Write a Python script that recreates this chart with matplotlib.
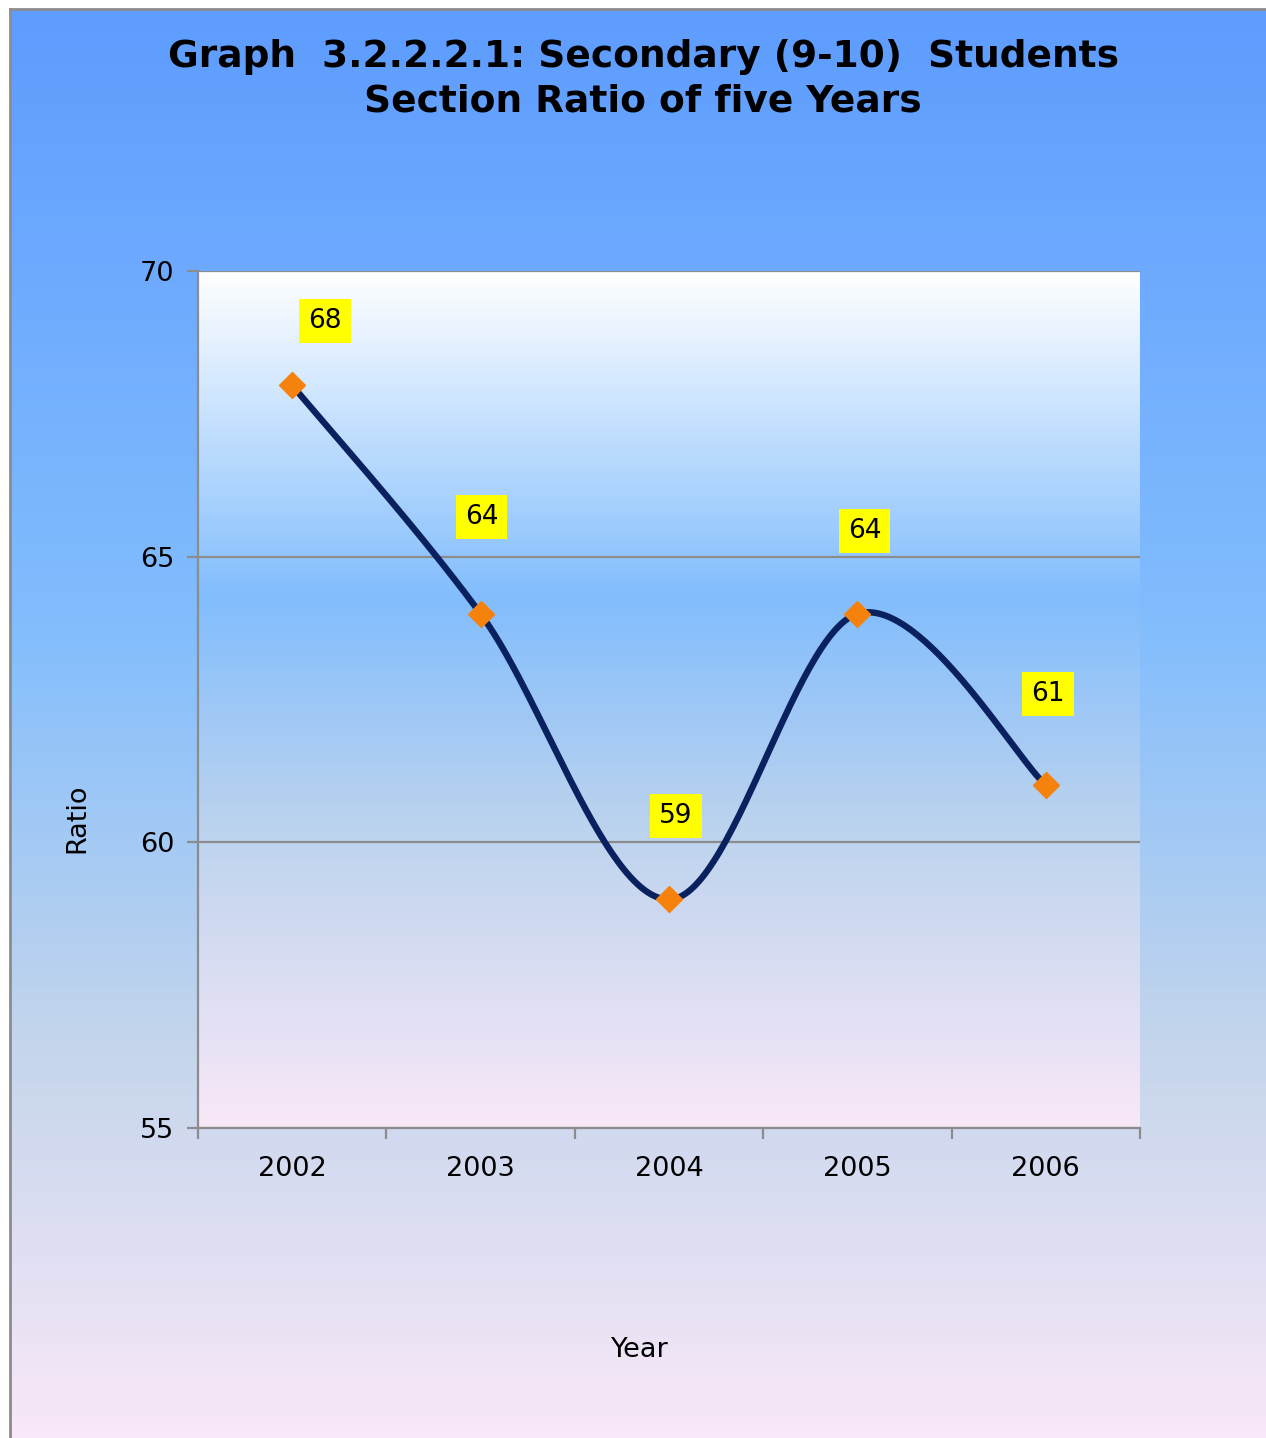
import numpy as np
import matplotlib
matplotlib.use("Agg")
import matplotlib.pyplot as plt
from matplotlib.colors import LinearSegmentedColormap
from matplotlib.lines import Line2D

years = ["2002", "2003", "2004", "2005", "2006"]
ratio = [68, 64, 59, 64, 61]
y_ticks = [55, 60, 65, 70]

# label offsets in pixels (hand placed in the original)
label_offsets = [(33, 64), (1, 97), (7, 83), (7, 83), (2, 91)]

W, H = 1266, 1438
fig = plt.figure(figsize=(W / 100, H / 100), dpi=100)
fig.patch.set_facecolor("white")

# outer chart background gradient
bg_cmap = LinearSegmentedColormap.from_list(
    "bg", [(0.0, "#5e9cff"), (0.43, "#82bdfd"), (0.72, "#c3d5ec"), (1.0, "#f9e8f8")])
bg = fig.add_axes([10 / W, 0, 1 - 10 / W, 1 - 9 / H], zorder=-10)
bg.imshow(np.linspace(0, 1, 256).reshape(-1, 1), cmap=bg_cmap, aspect="auto",
          extent=[0, 1, 0, 1], origin="upper")
bg.set_xlim(0, 1)
bg.set_ylim(0, 1)
bg.axis("off")
fig.add_artist(Line2D([10 / W, 10 / W], [0, 1 - 9 / H], color="#8c8c8c", lw=2))
fig.add_artist(Line2D([10 / W, 1], [1 - 9 / H, 1 - 9 / H], color="#8c8c8c", lw=2))

ax = fig.add_axes([198 / W, 310 / H, 942 / W, 857 / H])
ax.patch.set_alpha(0)

# plot area gradient
pa_cmap = LinearSegmentedColormap.from_list(
    "pa", [(0.0, "#ffffff"), (0.38, "#82bdfd"), (0.65, "#bcd3ee"), (1.0, "#f9e8f8")])
ax.imshow(np.linspace(0, 1, 256).reshape(-1, 1), cmap=pa_cmap, aspect="auto",
          extent=[-0.5, len(years) - 0.5, 55, 70], origin="upper", zorder=0)

# smoothed line (Catmull-Rom style Bezier, like Excel's smoothing)
x = np.arange(len(years), dtype=float)
y = np.array(ratio, dtype=float)
px = np.concatenate([[x[0]], x, [x[-1]]])
py = np.concatenate([[y[0]], y, [y[-1]]])
t = np.linspace(0, 1, 60)
cx, cy = [], []
for i in range(len(x) - 1):
    p0 = np.array([px[i + 1], py[i + 1]])
    p3 = np.array([px[i + 2], py[i + 2]])
    p1 = p0 + (p3 - np.array([px[i], py[i]])) / 6
    p2 = p3 - (np.array([px[i + 3], py[i + 3]]) - p0) / 6
    seg = ((1 - t) ** 3)[:, None] * p0 + (3 * (1 - t) ** 2 * t)[:, None] * p1 \
        + (3 * (1 - t) * t ** 2)[:, None] * p2 + (t ** 3)[:, None] * p3
    cx.extend(seg[:, 0])
    cy.extend(seg[:, 1])

for yt in y_ticks:
    ax.axhline(yt, color="#8c8c8c", lw=1.6, zorder=1)

ax.plot(cx, cy, color="#0a2160", lw=4.6, zorder=3, solid_capstyle="round")
ax.plot(x, y, ls="none", marker="D", ms=13, color="#f5820c", zorder=4)

for xi, yi, (dx, dy) in zip(x, ratio, label_offsets):
    ax.annotate(str(yi), (xi, yi), xytext=(dx, dy), textcoords="offset pixels",
                ha="center", va="center", fontsize=19, color="black", zorder=5,
                bbox=dict(boxstyle="square,pad=0.34", fc="#ffff00", ec="none"))

ax.set_xlim(-0.5, len(years) - 0.5)
ax.set_ylim(55, 70)
ax.set_yticks(y_ticks)
ax.set_yticklabels([str(v) for v in y_ticks], fontsize=19.5)
ax.set_xticks(np.arange(-0.5, len(years), 1.0))
ax.set_xticklabels([])
ax.set_xticks(x, minor=True)
ax.set_xticklabels(years, minor=True, fontsize=19.5)
ax.tick_params(axis="x", which="major", length=8, width=1.6, color="#8c8c8c", direction="out")
ax.tick_params(axis="x", which="minor", length=0, pad=20)
ax.tick_params(axis="y", length=8, width=1.6, color="#8c8c8c", pad=9)
for s in ["top", "right"]:
    ax.spines[s].set_visible(False)
for s in ["left", "bottom"]:
    ax.spines[s].set_color("#8c8c8c")
    ax.spines[s].set_linewidth(1.6)

fig.text(77 / W, 1 - 818 / H, "Ratio", rotation=90, ha="center", va="center", fontsize=19.5)
fig.text(640 / W, 1 - 1350 / H, "Year", ha="center", va="center", fontsize=19.5)
fig.text(643 / W, 1 - 57 / H, "Graph  3.2.2.2.1: Secondary (9-10)  Students",
         ha="center", va="center", fontsize=27, fontweight="bold")
fig.text(643 / W, 1 - 101 / H, "Section Ratio of five Years",
         ha="center", va="center", fontsize=27, fontweight="bold")

fig.savefig("out.png", dpi=100)
